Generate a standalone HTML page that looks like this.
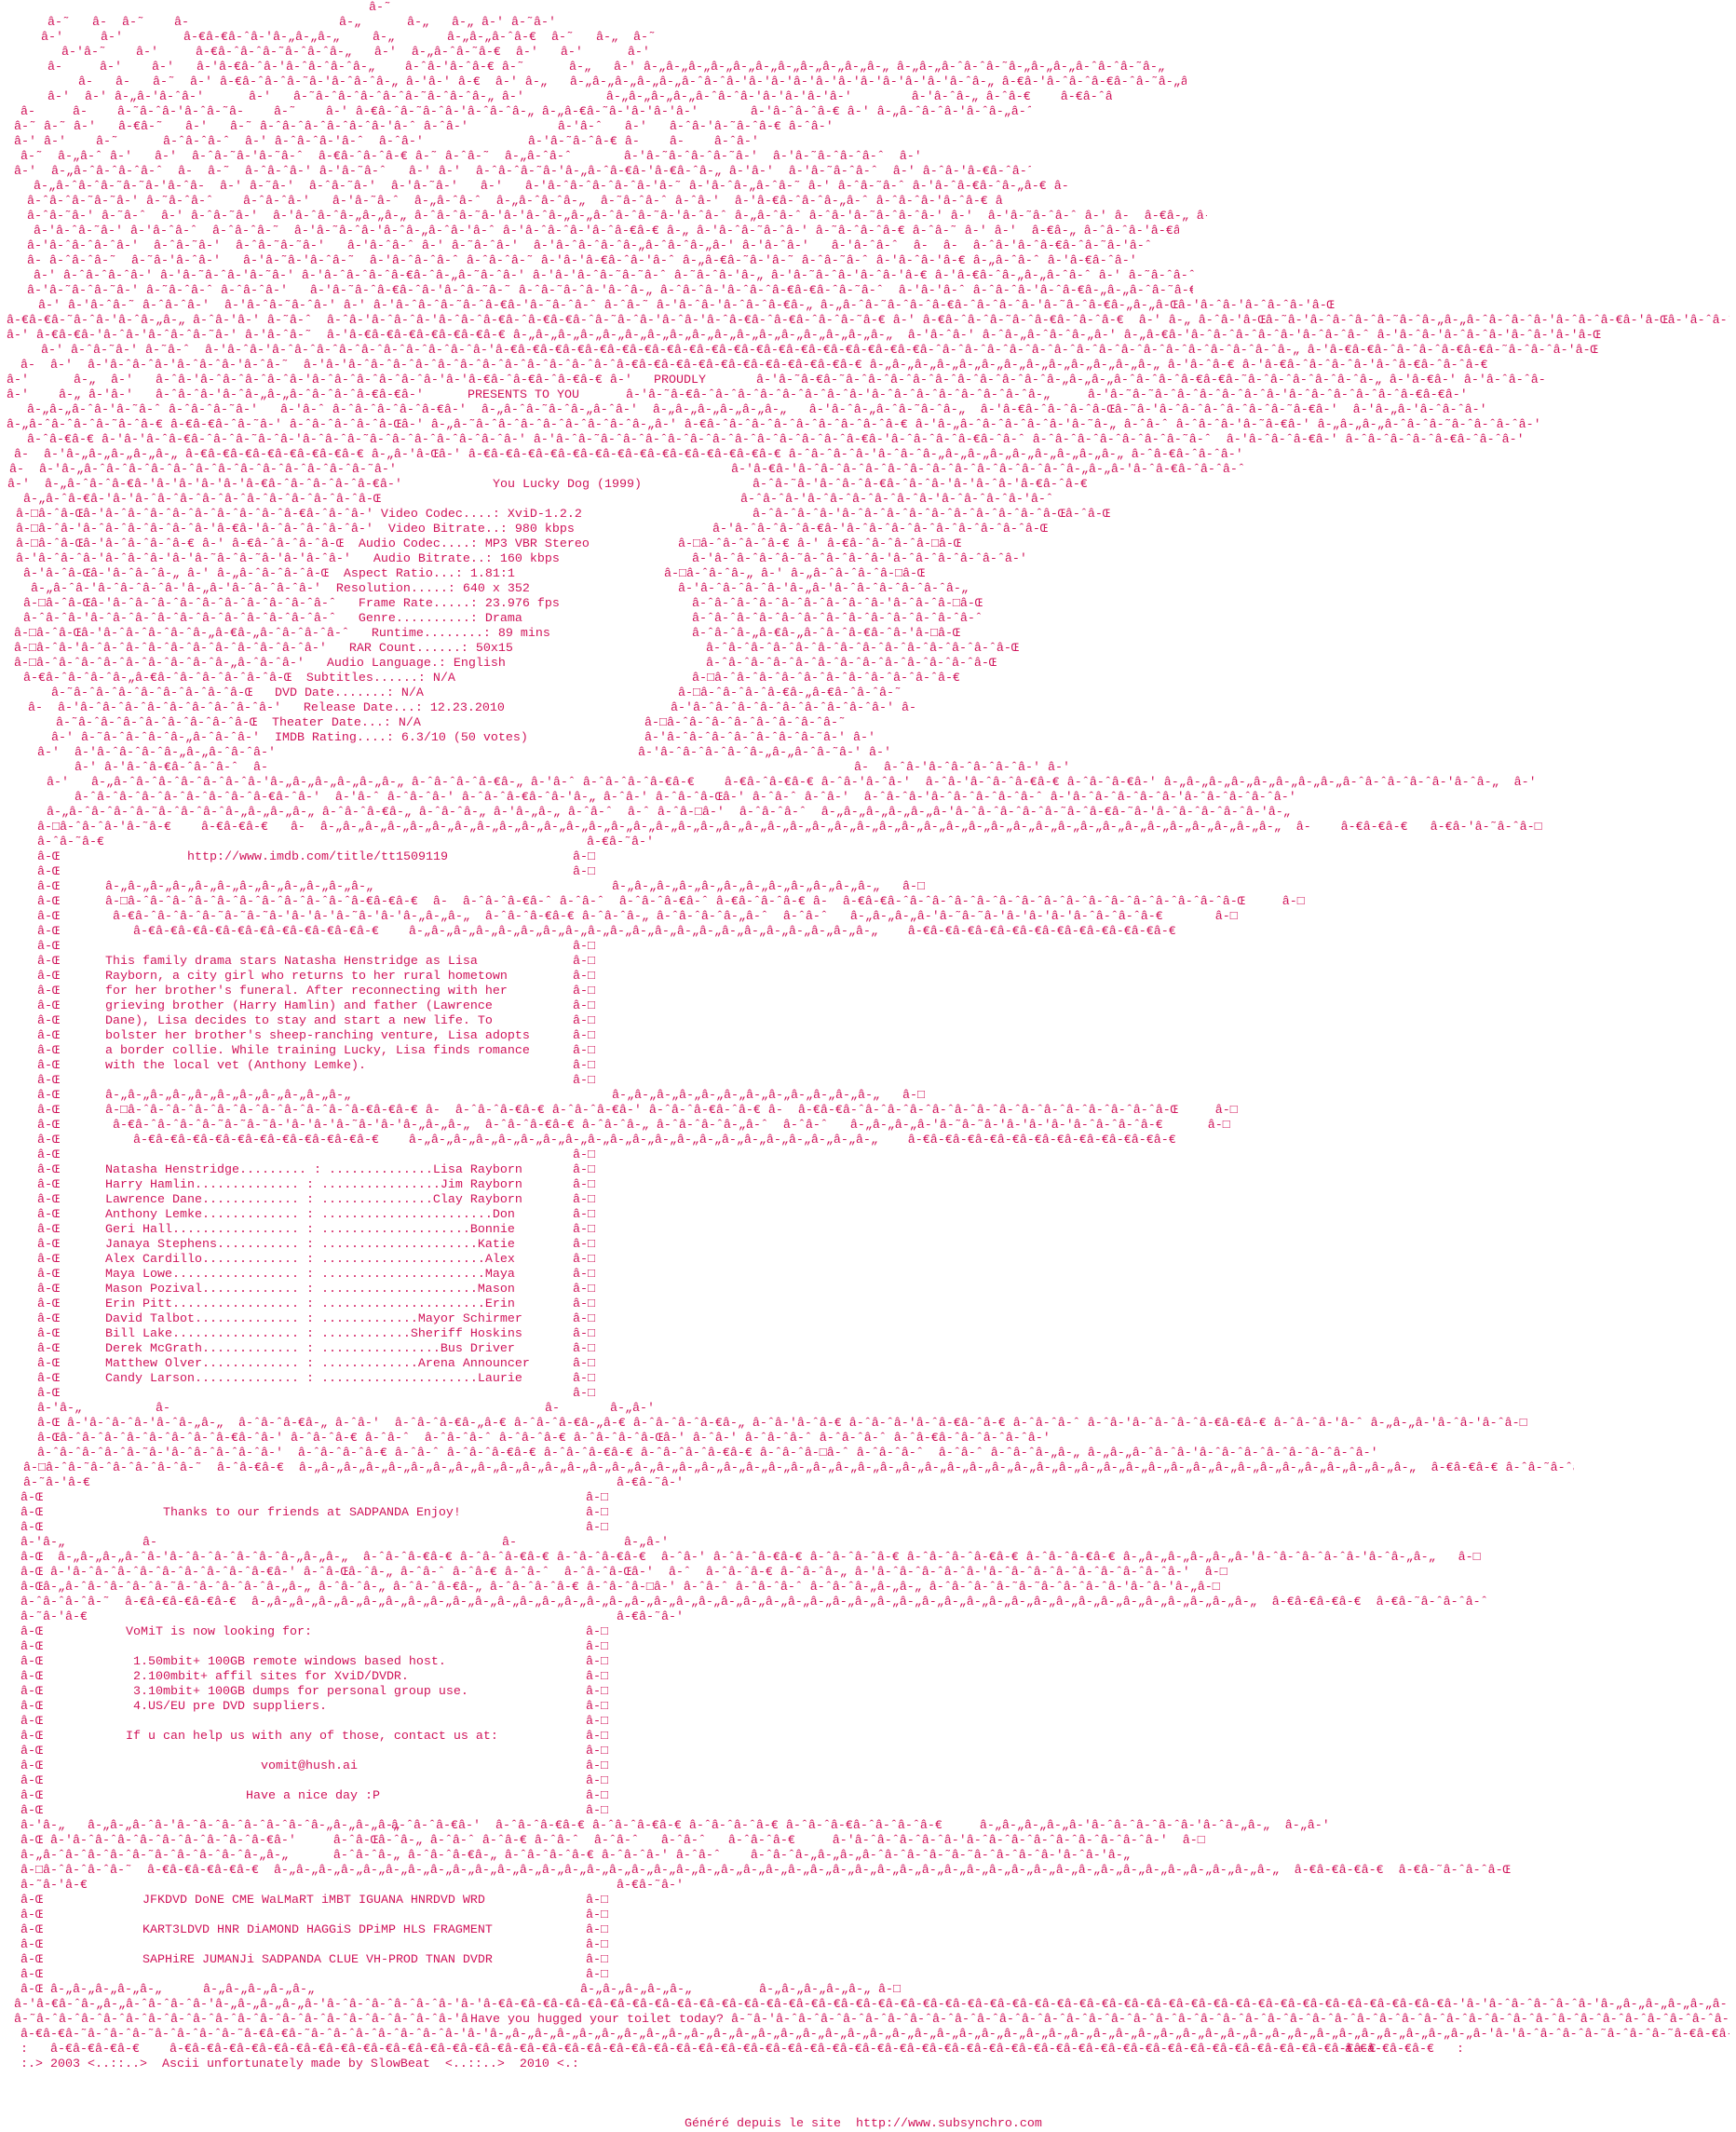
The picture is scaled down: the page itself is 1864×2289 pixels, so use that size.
<!DOCTYPE html>
<html><head><meta charset="utf-8">
<style>
html,body{margin:0;padding:0;background:#fff;}
body{width:1864px;height:2288px;position:relative;overflow:hidden;}
b{position:absolute;font-weight:normal;font-family:"Liberation Mono",monospace;font-size:13.33px;line-height:16px;white-space:pre;color:#d0145a;overflow:hidden;}
</style></head><body>
<b style="top:1px;left:396px">â-˜</b>
<b style="top:17px;left:51px">â-˜   â-  â-˜    â-</b><b style="top:17px;left:364px">â-„</b><b style="top:17px;left:437px">â-„   â-„ â-' â-˜â-'</b>
<b style="top:33px;left:44px">â-'     â-'</b><b style="top:33px;left:197px">â-€â-€â-ˆâ-'â-„â-„â-„</b><b style="top:33px;left:400px">â-„</b><b style="top:33px;left:480px">â-„â-„â-ˆâ-€  â-˜   â-„  â-˜</b>
<b style="top:49px;left:66px">â-'â-˜    â-'     â-€â-ˆâ-ˆâ-˜â-ˆâ-ˆâ-„   â-'  â-„â-ˆâ-˜â-€  â-'   â-'      â-'</b>
<b style="top:65px;left:51px">â-     â-'    â-'   â-'â-€â-ˆâ-'â-ˆâ-ˆâ-ˆâ-„    â-ˆâ-'â-ˆâ-€ â-˜</b><b style="top:65px;left:611px">â-„   â-' â-„â-„â-„â-„â-„â-„â-„â-„â-„â-„â-„ â-„â-„â-ˆâ-ˆâ-˜â-„â-„â-„â-ˆâ-ˆâ-˜â-„</b>
<b style="top:81px;left:84px;width:1190px">â-   â-   â-˜  â-' â-€â-ˆâ-ˆâ-˜â-'â-ˆâ-ˆâ-„ â-'â-' â-€  â-' â-„   â-„â-„â-„â-„â-„â-ˆâ-ˆâ-'â-'â-'â-'â-'â-'â-'â-'â-'â-'â-ˆâ-„ â-€â-'â-ˆâ-ˆâ-€â-ˆâ-˜â-„â-„â-ˆâ-'â-'â-ˆâ-€â-'</b>
<b style="top:97px;left:51px;width:1143px">â-'  â-' â-„â-'â-ˆâ-'      â-'   â-˜â-ˆâ-ˆâ-ˆâ-ˆâ-˜â-ˆâ-ˆâ-„ â-'           â-„â-„â-„â-„â-ˆâ-ˆâ-'â-'â-'â-'â-'        â-'â-ˆâ-„ â-ˆâ-€    â-€â-ˆâ-„</b>
<b style="top:113px;left:22px;width:1085px">â-     â-    â-˜â-ˆâ-'â-ˆâ-˜â-    â-˜    â-' â-€â-ˆâ-˜â-ˆâ-'â-ˆâ-ˆâ-„ â-„â-€â-˜â-'â-'â-'â-'       â-'â-ˆâ-ˆâ-€ â-' â-„â-ˆâ-ˆâ-'â-ˆâ-„â-ˆâ-'</b>
<b style="top:129px;left:15px;width:932px">â-˜ â-˜ â-'   â-€â-˜   â-'   â-˜ â-ˆâ-ˆâ-ˆâ-ˆâ-ˆâ-'â-ˆ â-ˆâ-'            â-'â-ˆ   â-'   â-ˆâ-'â-˜â-ˆâ-€ â-ˆâ-'</b>
<b style="top:145px;left:15px;width:932px">â-' â-'    â-˜      â-ˆâ-ˆâ-ˆ  â-' â-ˆâ-ˆâ-'â-ˆ  â-ˆâ-'              â-'â-˜â-ˆâ-€ â-    â-    â-ˆâ-'</b>
<b style="top:161px;left:22px;width:968px">â-˜  â-„â-ˆ â-'   â-'  â-ˆâ-˜â-'â-˜â-ˆ  â-€â-ˆâ-ˆâ-€ â-˜ â-ˆâ-˜  â-„â-ˆâ-ˆ       â-'â-˜â-ˆâ-ˆâ-˜â-'  â-'â-˜â-ˆâ-ˆâ-ˆ  â-' â-  â-€â-„</b>
<b style="top:177px;left:15px;width:1092px">â-'  â-„â-ˆâ-ˆâ-ˆâ-ˆ  â-  â-˜  â-ˆâ-ˆâ-' â-'â-˜â-ˆ   â-' â-'  â-ˆâ-ˆâ-˜â-'â-„â-ˆâ-€â-'â-€â-ˆâ-„ â-'â-'  â-'â-˜â-ˆâ-ˆ  â-' â-ˆâ-'â-€â-ˆâ-˜â-ˆâ-„ â-'</b>
<b style="top:193px;left:36px;width:1114px">â-„â-ˆâ-ˆâ-˜â-˜â-'â-ˆâ-  â-' â-˜â-'  â-ˆâ-˜â-'  â-'â-˜â-'   â-'   â-'â-ˆâ-ˆâ-ˆâ-ˆâ-'â-˜ â-'â-ˆâ-„â-ˆâ-˜ â-' â-ˆâ-˜â-ˆ â-'â-ˆâ-€â-ˆâ-„â-€ â-'â-'â-ˆâ-€â-ˆâ-˜ â-˜â-'</b>
<b style="top:209px;left:29px;width:1048px">â-ˆâ-ˆâ-˜â-˜â-' â-˜â-ˆâ-ˆ    â-ˆâ-ˆâ-'   â-'â-˜â-ˆ  â-„â-ˆâ-ˆ  â-„â-ˆâ-ˆâ-„  â-˜â-ˆâ-ˆ â-ˆâ-'  â-'â-€â-ˆâ-ˆâ-„â-ˆ â-ˆâ-ˆâ-'â-ˆâ-€ â-' â-˜â-ˆâ-„</b>
<b style="top:225px;left:29px;width:1267px">â-ˆâ-˜â-' â-˜â-ˆ  â-' â-ˆâ-˜â-'  â-'â-ˆâ-ˆâ-„â-„â-„ â-ˆâ-ˆâ-˜â-'â-'â-ˆâ-„â-„â-ˆâ-ˆâ-˜â-'â-ˆâ-ˆ â-„â-ˆâ-ˆ â-ˆâ-'â-˜â-ˆâ-ˆâ-' â-'  â-'â-˜â-ˆâ-ˆ â-' â-  â-€â-„ â-ˆâ-€â-'â-ˆ</b>
<b style="top:241px;left:36px;width:1230px">â-'â-ˆâ-˜â-' â-'â-ˆâ-ˆ  â-ˆâ-ˆâ-˜  â-'â-˜â-ˆâ-'â-ˆâ-„â-ˆâ-'â-ˆ â-'â-ˆâ-ˆâ-'â-ˆâ-€â-€ â-„ â-'â-ˆâ-˜â-ˆâ-' â-˜â-ˆâ-ˆâ-€ â-ˆâ-˜ â-' â-'  â-€â-„ â-ˆâ-ˆâ-'â-€â-ˆâ-˜â-ˆ â-'</b>
<b style="top:257px;left:29px;width:1252px">â-'â-ˆâ-ˆâ-ˆâ-'  â-ˆâ-˜â-'  â-ˆâ-˜â-˜â-'   â-'â-ˆâ-ˆ â-' â-˜â-ˆâ-'  â-'â-ˆâ-ˆâ-ˆâ-„â-ˆâ-ˆâ-„â-' â-'â-ˆâ-'   â-'â-ˆâ-ˆ  â-  â-  â-ˆâ-'â-ˆâ-€â-ˆâ-˜â-'â-ˆ</b>
<b style="top:273px;left:29px;width:1281px">â- â-ˆâ-ˆâ-˜  â-˜â-'â-ˆâ-'   â-'â-˜â-'â-ˆâ-˜  â-'â-ˆâ-ˆâ-ˆ â-ˆâ-ˆâ-˜ â-'â-'â-€â-ˆâ-'â-ˆ â-„â-€â-˜â-'â-˜ â-ˆâ-˜â-ˆ â-'â-ˆâ-'â-€ â-„â-ˆâ-ˆ â-'â-€â-ˆâ-'</b>
<b style="top:289px;left:36px;width:1259px">â-' â-ˆâ-ˆâ-ˆâ-' â-'â-˜â-ˆâ-'â-˜â-' â-'â-ˆâ-ˆâ-ˆâ-€â-ˆâ-„â-˜â-ˆâ-' â-'â-'â-ˆâ-˜â-˜â-ˆ â-˜â-ˆâ-'â-„ â-'â-˜â-ˆâ-'â-ˆâ-'â-€ â-'â-€â-ˆâ-„â-„â-ˆâ-ˆ â-' â-˜â-ˆâ-ˆ</b>
<b style="top:305px;left:29px;width:1252px">â-'â-˜â-ˆâ-˜â-' â-˜â-ˆâ-ˆ â-ˆâ-ˆâ-'   â-'â-˜â-ˆâ-€â-ˆâ-'â-ˆâ-˜â-˜ â-ˆâ-˜â-ˆâ-'â-ˆâ-„ â-ˆâ-ˆâ-'â-ˆâ-ˆâ-€â-€â-ˆâ-˜â-ˆ  â-'â-'â-ˆ â-ˆâ-ˆâ-'â-ˆâ-€â-„â-„â-ˆâ-˜â-€ â-'</b>
<b style="top:321px;left:41px;width:1546px">â-' â-'â-ˆâ-˜ â-ˆâ-ˆâ-'  â-'â-ˆâ-˜â-ˆâ-' â-' â-'â-ˆâ-ˆâ-˜â-ˆâ-€â-'â-˜â-ˆâ-ˆ â-ˆâ-˜ â-'â-ˆâ-'â-ˆâ-ˆâ-€â-„ â-„â-ˆâ-˜â-ˆâ-ˆâ-€â-ˆâ-ˆâ-ˆâ-'â-˜â-ˆâ-€â-„â-„â-Œâ-'â-ˆâ-'â-ˆâ-ˆâ-'â-Œ</b>
<b style="top:337px;left:7px;width:1850px">â-€â-€â-˜â-ˆâ-'â-ˆâ-„â-„ â-ˆâ-'â-' â-˜â-ˆ  â-ˆâ-'â-ˆâ-ˆâ-'â-ˆâ-ˆâ-€â-ˆâ-€â-€â-ˆâ-˜â-ˆâ-'â-ˆâ-'â-ˆâ-€â-ˆâ-€â-ˆâ-ˆâ-˜â-€ â-' â-€â-ˆâ-ˆâ-˜â-ˆâ-€â-ˆâ-ˆâ-€  â-' â-„ â-ˆâ-'â-Œâ-˜â-'â-ˆâ-ˆâ-ˆâ-˜â-ˆâ-„â-„â-ˆâ-ˆâ-ˆâ-'â-ˆâ-ˆâ-€â-'â-Œâ-'â-ˆâ-ˆâ-'â-ˆâ-€â-ˆâ-ˆâ-„â-„â-„â-ˆâ-ˆâ-'â-Œ</b>
<b style="top:353px;left:7px;width:1850px">â-' â-€â-€â-'â-ˆâ-'â-ˆâ-ˆâ-˜â-' â-'â-ˆâ-˜  â-'â-€â-€â-€â-€â-€â-€â-€ â-„â-„â-„â-„â-„â-„â-„â-„â-„â-„â-„â-„â-„â-„â-„â-„â-„  â-'â-ˆâ-' â-ˆâ-„â-ˆâ-ˆâ-„â-' â-„â-€â-'â-ˆâ-ˆâ-ˆâ-ˆâ-'â-ˆâ-ˆâ-ˆ â-'â-ˆâ-'â-ˆâ-ˆâ-'â-ˆâ-'â-'â-Œ</b>
<b style="top:369px;left:44px;width:1791px">â-' â-ˆâ-˜â-' â-˜â-ˆ  â-'â-ˆâ-'â-ˆâ-ˆâ-ˆâ-ˆâ-ˆâ-ˆâ-ˆâ-ˆâ-ˆâ-'â-€â-€â-€â-€â-€â-€â-€â-€â-€â-€â-€â-€â-€â-€â-€â-€â-€â-€â-€â-ˆâ-ˆâ-ˆâ-ˆâ-ˆâ-ˆâ-ˆâ-ˆâ-ˆâ-ˆâ-ˆâ-ˆâ-ˆâ-ˆâ-ˆâ-ˆâ-„ â-'â-€â-€â-ˆâ-ˆâ-ˆâ-€â-€â-˜â-ˆâ-ˆâ-'â-Œ</b>
<b style="top:385px;left:22px;width:1798px">â-  â-'  â-'â-ˆâ-ˆâ-'â-ˆâ-ˆâ-'â-ˆâ-˜  â-'â-'â-ˆâ-ˆâ-ˆâ-ˆâ-ˆâ-ˆâ-ˆâ-ˆâ-ˆâ-ˆâ-ˆâ-ˆâ-€â-€â-€â-€â-€â-€â-€â-€â-€â-€â-€ â-„â-„â-„â-„â-„â-„â-„â-„â-„â-„â-„â-„â-„ â-'â-ˆâ-€ â-'â-€â-ˆâ-ˆâ-ˆâ-'â-ˆâ-€â-ˆâ-ˆâ-€</b>
<b style="top:401px;left:7px;width:680px">â-'      â-„  â-'   â-ˆâ-'â-ˆâ-ˆâ-ˆâ-ˆâ-'â-ˆâ-ˆâ-ˆâ-ˆâ-ˆâ-'â-'â-€â-ˆâ-€â-ˆâ-€â-€ â-'</b><b style="top:401px;left:702px">PROUDLY</b><b style="top:401px;left:780px;width:880px">    â-'â-˜â-€â-˜â-ˆâ-ˆâ-ˆâ-ˆâ-ˆâ-ˆâ-ˆâ-ˆâ-ˆâ-„â-„â-„â-ˆâ-ˆâ-ˆâ-€â-€â-˜â-ˆâ-ˆâ-ˆâ-ˆâ-ˆâ-„ â-'â-€â-' â-'â-ˆâ-ˆâ-'â-ˆâ-ˆâ-ˆâ-˜</b>
<b style="top:417px;left:7px;width:480px">â-'    â-„ â-'â-'   â-ˆâ-ˆâ-'â-ˆâ-„â-„â-ˆâ-ˆâ-ˆâ-€â-€â-'</b><b style="top:417px;left:502px">PRESENTS TO YOU</b><b style="top:417px;left:640px;width:1107px">    â-'â-˜â-€â-ˆâ-ˆâ-ˆâ-ˆâ-ˆâ-ˆâ-ˆâ-'â-ˆâ-ˆâ-ˆâ-ˆâ-ˆâ-ˆâ-ˆâ-„     â-'â-˜â-˜â-ˆâ-ˆâ-ˆâ-ˆâ-ˆâ-'â-ˆâ-ˆâ-ˆâ-ˆâ-ˆâ-€â-€â-'</b>
<b style="top:433px;left:29px;width:1806px">â-„â-„â-ˆâ-'â-˜â-ˆ â-ˆâ-ˆâ-˜â-'   â-'â-ˆ â-ˆâ-ˆâ-ˆâ-ˆâ-€â-'  â-„â-ˆâ-˜â-ˆâ-„â-ˆâ-'  â-„â-„â-„â-„â-„â-„   â-'â-ˆâ-„â-ˆâ-˜â-ˆâ-„  â-'â-€â-ˆâ-ˆâ-ˆâ-Œâ-˜â-'â-ˆâ-ˆâ-ˆâ-ˆâ-ˆâ-˜â-€â-'  â-'â-„â-'â-ˆâ-ˆâ-'</b>
<b style="top:449px;left:7px;width:1850px">â-„â-ˆâ-ˆâ-ˆâ-˜â-ˆâ-€ â-€â-€â-ˆâ-˜â-' â-ˆâ-ˆâ-ˆâ-ˆâ-Œâ-' â-„â-˜â-ˆâ-ˆâ-ˆâ-ˆâ-ˆâ-ˆâ-ˆâ-„â-' â-€â-ˆâ-ˆâ-ˆâ-ˆâ-ˆâ-ˆâ-ˆâ-ˆâ-€ â-'â-„â-ˆâ-ˆâ-ˆâ-ˆâ-'â-˜â-„ â-ˆâ-ˆ â-ˆâ-ˆâ-'â-˜â-€â-' â-„â-„â-„â-ˆâ-ˆâ-˜â-ˆâ-ˆâ-ˆâ-'</b>
<b style="top:465px;left:29px;width:1828px">â-ˆâ-€â-€ â-'â-'â-ˆâ-€â-ˆâ-ˆâ-˜â-ˆâ-'â-ˆâ-ˆâ-˜â-ˆâ-ˆâ-ˆâ-ˆâ-ˆâ-ˆâ-' â-'â-ˆâ-˜â-ˆâ-ˆâ-ˆâ-ˆâ-ˆâ-ˆâ-ˆâ-ˆâ-ˆâ-ˆâ-ˆâ-€â-'â-ˆâ-ˆâ-ˆâ-€â-ˆâ-ˆ â-ˆâ-ˆâ-ˆâ-ˆâ-ˆâ-ˆâ-˜â-ˆ  â-'â-ˆâ-ˆâ-€â-' â-ˆâ-ˆâ-ˆâ-ˆâ-€â-ˆâ-ˆâ-'</b>
<b style="top:481px;left:15px;width:1383px">â-  â-'â-„â-„â-„â-„â-„ â-€â-€â-€â-€â-€â-€â-€â-€ â-„â-'â-Œâ-' â-€â-€â-€â-€â-€â-€â-€â-€â-€â-€â-€â-€â-€â-€ â-ˆâ-ˆâ-ˆâ-'â-ˆâ-ˆâ-„â-„â-„â-„â-„â-„â-„â-„â-„ â-ˆâ-€â-ˆâ-ˆâ-'</b>
<b style="top:497px;left:10px;width:570px">â-  â-'â-„â-ˆâ-ˆâ-ˆâ-ˆâ-ˆâ-ˆâ-ˆâ-ˆâ-ˆâ-ˆâ-ˆâ-ˆâ-˜â-'</b><b style="top:497px;left:785px;width:675px">â-'â-€â-'â-ˆâ-ˆâ-ˆâ-ˆâ-ˆâ-ˆâ-ˆâ-ˆâ-ˆâ-ˆâ-ˆâ-ˆâ-„â-„â-'â-ˆâ-€â-ˆâ-ˆâ-ˆ</b>
<b style="top:513px;left:8px">â-'  â-„â-ˆâ-ˆâ-€â-'â-'â-'â-'â-'â-€â-ˆâ-ˆâ-ˆâ-ˆâ-€â-'</b><b style="top:513px;left:529px">You Lucky Dog (1999)</b><b style="top:513px;left:808px">â-ˆâ-˜â-'â-ˆâ-ˆâ-€â-ˆâ-ˆâ-'â-'â-ˆâ-'â-€â-ˆâ-€</b>
<b style="top:529px;left:25px">â-„â-ˆâ-€â-'â-'â-ˆâ-ˆâ-ˆâ-ˆâ-ˆâ-ˆâ-ˆâ-ˆâ-ˆâ-ˆâ-Œ</b><b style="top:529px;left:795px">â-ˆâ-ˆâ-'â-ˆâ-ˆâ-ˆâ-ˆâ-ˆâ-'â-ˆâ-ˆâ-ˆâ-'â-ˆ</b>
<b style="top:545px;left:17px">â-□â-ˆâ-Œâ-'â-ˆâ-ˆâ-ˆâ-ˆâ-ˆâ-ˆâ-ˆâ-ˆâ-€â-ˆâ-ˆâ-' Video Codec....: XviD-1.2.2</b><b style="top:545px;left:808px">â-ˆâ-ˆâ-ˆâ-'â-ˆâ-ˆâ-ˆâ-ˆâ-ˆâ-ˆâ-ˆâ-ˆâ-ˆâ-Œâ-ˆâ-Œ</b>
<b style="top:561px;left:17px">â-□â-ˆâ-'â-ˆâ-ˆâ-ˆâ-ˆâ-ˆâ-'â-€â-'â-ˆâ-ˆâ-ˆâ-ˆâ-'  Video Bitrate..: 980 kbps</b><b style="top:561px;left:765px">â-'â-ˆâ-ˆâ-ˆâ-€â-'â-ˆâ-ˆâ-ˆâ-ˆâ-ˆâ-ˆâ-ˆâ-ˆâ-Œ</b>
<b style="top:577px;left:17px">â-□â-ˆâ-Œâ-'â-ˆâ-ˆâ-ˆâ-€ â-' â-€â-ˆâ-ˆâ-ˆâ-Œ  Audio Codec....: MP3 VBR Stereo</b><b style="top:577px;left:728px">â-□â-ˆâ-ˆâ-ˆâ-€ â-' â-€â-ˆâ-ˆâ-ˆâ-□â-Œ</b>
<b style="top:593px;left:17px">â-'â-ˆâ-ˆâ-'â-ˆâ-ˆâ-'â-'â-˜â-ˆâ-˜â-'â-'â-ˆâ-'   Audio Bitrate..: 160 kbps</b><b style="top:593px;left:743px">â-'â-ˆâ-ˆâ-ˆâ-˜â-ˆâ-ˆâ-ˆâ-'â-ˆâ-ˆâ-ˆâ-ˆâ-ˆâ-'</b>
<b style="top:609px;left:25px">â-'â-ˆâ-Œâ-'â-ˆâ-ˆâ-„ â-' â-„â-ˆâ-ˆâ-ˆâ-Œ  Aspect Ratio...: 1.81:1</b><b style="top:609px;left:713px">â-□â-ˆâ-ˆâ-„ â-' â-„â-ˆâ-ˆâ-ˆâ-□â-Œ</b>
<b style="top:625px;left:33px">â-„â-ˆâ-'â-ˆâ-ˆâ-ˆâ-'â-„â-'â-ˆâ-ˆâ-ˆâ-'  Resolution.....: 640 x 352</b><b style="top:625px;left:728px">â-'â-ˆâ-ˆâ-ˆâ-'â-„â-'â-ˆâ-ˆâ-ˆâ-ˆâ-ˆâ-„</b>
<b style="top:641px;left:25px">â-□â-ˆâ-Œâ-'â-ˆâ-ˆâ-ˆâ-ˆâ-ˆâ-ˆâ-ˆâ-ˆâ-ˆâ-ˆ   Frame Rate.....: 23.976 fps</b><b style="top:641px;left:743px">â-ˆâ-ˆâ-ˆâ-ˆâ-ˆâ-ˆâ-ˆâ-ˆâ-'â-ˆâ-ˆâ-□â-Œ</b>
<b style="top:657px;left:25px">â-ˆâ-ˆâ-'â-ˆâ-ˆâ-ˆâ-ˆâ-ˆâ-ˆâ-ˆâ-ˆâ-ˆâ-ˆâ-ˆ   Genre..........: Drama</b><b style="top:657px;left:743px">â-ˆâ-ˆâ-ˆâ-ˆâ-ˆâ-ˆâ-ˆâ-ˆâ-ˆâ-ˆâ-ˆâ-ˆâ-ˆ</b>
<b style="top:673px;left:15px">â-□â-ˆâ-Œâ-'â-ˆâ-ˆâ-ˆâ-ˆâ-„â-€â-„â-ˆâ-ˆâ-ˆâ-ˆ   Runtime........: 89 mins</b><b style="top:673px;left:743px">â-ˆâ-ˆâ-„â-€â-„â-ˆâ-ˆâ-€â-ˆâ-'â-□â-Œ</b>
<b style="top:689px;left:15px">â-□â-ˆâ-'â-ˆâ-ˆâ-ˆâ-ˆâ-ˆâ-ˆâ-ˆâ-ˆâ-ˆâ-ˆâ-'   RAR Count......: 50x15</b><b style="top:689px;left:758px">â-ˆâ-ˆâ-ˆâ-ˆâ-ˆâ-ˆâ-ˆâ-ˆâ-ˆâ-ˆâ-ˆâ-ˆâ-ˆâ-Œ</b>
<b style="top:705px;left:15px">â-□â-ˆâ-ˆâ-ˆâ-ˆâ-ˆâ-ˆâ-ˆâ-ˆâ-„â-ˆâ-ˆâ-'   Audio Language.: English</b><b style="top:705px;left:758px">â-ˆâ-ˆâ-ˆâ-ˆâ-ˆâ-ˆâ-ˆâ-ˆâ-ˆâ-ˆâ-ˆâ-ˆâ-Œ</b>
<b style="top:721px;left:25px">â-€â-ˆâ-ˆâ-ˆâ-„â-€â-ˆâ-ˆâ-ˆâ-ˆâ-ˆâ-Œ  Subtitles......: N/A</b><b style="top:721px;left:743px">â-□â-ˆâ-ˆâ-ˆâ-ˆâ-ˆâ-ˆâ-ˆâ-ˆâ-ˆâ-ˆâ-€</b>
<b style="top:737px;left:55px">â-˜â-ˆâ-ˆâ-ˆâ-ˆâ-ˆâ-ˆâ-ˆâ-Œ   DVD Date.......: N/A</b><b style="top:737px;left:728px">â-□â-ˆâ-ˆâ-ˆâ-€â-„â-€â-ˆâ-ˆâ-˜</b>
<b style="top:753px;left:30px">â-  â-'â-ˆâ-ˆâ-ˆâ-ˆâ-ˆâ-ˆâ-ˆâ-ˆâ-'   Release Date...: 12.23.2010</b><b style="top:753px;left:720px">â-'â-ˆâ-ˆâ-ˆâ-ˆâ-ˆâ-ˆâ-ˆâ-ˆâ-' â-</b>
<b style="top:769px;left:60px">â-˜â-ˆâ-ˆâ-ˆâ-ˆâ-ˆâ-ˆâ-ˆâ-Œ  Theater Date...: N/A</b><b style="top:769px;left:692px">â-□â-ˆâ-ˆâ-ˆâ-ˆâ-ˆâ-ˆâ-ˆâ-˜</b>
<b style="top:785px;left:55px">â-' â-˜â-ˆâ-ˆâ-ˆâ-„â-ˆâ-ˆâ-'  IMDB Rating....: 6.3/10 (50 votes)</b><b style="top:785px;left:692px">â-'â-ˆâ-ˆâ-ˆâ-ˆâ-ˆâ-ˆâ-˜â-' â-'</b>
<b style="top:801px;left:40px">â-'  â-'â-ˆâ-ˆâ-ˆâ-„â-„â-ˆâ-ˆâ-'</b><b style="top:801px;left:685px">â-'â-ˆâ-ˆâ-ˆâ-ˆâ-„â-„â-ˆâ-˜â-' â-'</b>
<b style="top:817px;left:80px">â-' â-'â-ˆâ-€â-ˆâ-ˆâ-ˆ  â-</b><b style="top:817px;left:917px">â-  â-ˆâ-'â-ˆâ-ˆâ-ˆâ-ˆâ-' â-'</b>
<b style="top:833px;left:50px;width:1807px">â-'   â-„â-ˆâ-ˆâ-ˆâ-ˆâ-ˆâ-ˆâ-'â-„â-„â-„â-„â-„â-„ â-ˆâ-ˆâ-ˆâ-€â-„ â-'â-ˆ â-ˆâ-ˆâ-ˆâ-€â-€    â-€â-ˆâ-€â-€ â-ˆâ-'â-ˆâ-'  â-ˆâ-'â-ˆâ-ˆâ-€â-€ â-ˆâ-ˆâ-€â-' â-„â-„â-„â-„â-„â-„â-„â-„â-ˆâ-ˆâ-ˆâ-ˆâ-'â-ˆâ-„  â-'</b>
<b style="top:849px;left:80px;width:1750px">â-ˆâ-ˆâ-ˆâ-ˆâ-ˆâ-ˆâ-ˆâ-ˆâ-€â-ˆâ-'  â-'â-ˆ â-ˆâ-ˆâ-' â-ˆâ-ˆâ-€â-ˆâ-'â-„ â-ˆâ-' â-ˆâ-ˆâ-Œâ-' â-ˆâ-ˆ â-ˆâ-'  â-ˆâ-ˆâ-'â-ˆâ-ˆâ-ˆâ-ˆâ-ˆ â-'â-ˆâ-ˆâ-ˆâ-ˆâ-'â-ˆâ-ˆâ-ˆâ-ˆâ-'</b>
<b style="top:865px;left:50px;width:1807px">â-„â-ˆâ-ˆâ-ˆâ-˜â-ˆâ-ˆâ-ˆâ-„â-„â-„â-„ â-ˆâ-ˆâ-€â-„ â-ˆâ-ˆâ-„ â-'â-„â-„ â-ˆâ-ˆ  â-ˆ â-ˆâ-□â-'  â-ˆâ-ˆâ-ˆ  â-„â-„â-„â-„â-„â-'â-ˆâ-ˆâ-ˆâ-ˆâ-˜â-ˆâ-€â-˜â-'â-ˆâ-ˆâ-ˆâ-ˆâ-'â-„</b>
<b style="top:881px;left:40px;width:1817px">â-□â-ˆâ-ˆâ-'â-˜â-€    â-€â-€â-€   â-  â-„â-„â-„â-„â-„â-„â-„â-„â-„â-„â-„â-„â-„â-„â-„â-„â-„â-„â-„â-„â-„â-„â-„â-„â-„â-„â-„â-„â-„â-„â-„â-„â-„â-„â-„â-„â-„â-„â-„â-„â-„â-„â-„  â-    â-€â-€â-€   â-€â-'â-˜â-ˆâ-□</b>
<b style="top:897px;left:40px">â-ˆâ-˜â-€</b><b style="top:897px;left:630px">â-€â-˜â-'</b>
<b style="top:913px;left:40px">â-Œ
â-Œ
â-Œ
â-Œ
â-Œ
â-Œ
â-Œ
â-Œ
â-Œ
â-Œ
â-Œ
â-Œ
â-Œ
â-Œ
â-Œ
â-Œ
â-Œ
â-Œ
â-Œ
â-Œ
â-Œ
â-Œ
â-Œ
â-Œ
â-Œ
â-Œ
â-Œ
â-Œ
â-Œ
â-Œ
â-Œ
â-Œ
â-Œ
â-Œ
â-Œ
â-Œ
â-Œ</b>
<b style="top:913px;left:615px">â-□
â-□




â-□
â-□
â-□
â-□
â-□
â-□
â-□
â-□
â-□
â-□




â-□
â-□
â-□
â-□
â-□
â-□
â-□
â-□
â-□
â-□
â-□
â-□
â-□
â-□
â-□
â-□
â-□</b>
<b style="top:913px;left:201px">http://www.imdb.com/title/tt1509119</b>
<b style="top:945px;left:113px">â-„â-„â-„â-„â-„â-„â-„â-„â-„â-„â-„â-„</b><b style="top:945px;left:657px">â-„â-„â-„â-„â-„â-„â-„â-„â-„â-„â-„â-„</b><b style="top:945px;left:969px">â-□</b>
<b style="top:961px;left:113px;width:1290px">â-□â-ˆâ-ˆâ-ˆâ-ˆâ-ˆâ-ˆâ-ˆâ-ˆâ-ˆâ-ˆâ-€â-€â-€  â-  â-ˆâ-ˆâ-€â-ˆ â-ˆâ-ˆ  â-ˆâ-ˆâ-€â-ˆ â-€â-ˆâ-ˆâ-€ â-  â-€â-€â-ˆâ-ˆâ-ˆâ-ˆâ-ˆâ-ˆâ-ˆâ-ˆâ-ˆâ-ˆâ-ˆâ-ˆâ-ˆâ-ˆâ-ˆâ-Œ     â-□</b>
<b style="top:977px;left:121px;width:1240px">â-€â-ˆâ-ˆâ-ˆâ-˜â-˜â-˜â-'â-'â-'â-˜â-'â-'â-„â-„â-„  â-ˆâ-ˆâ-€â-€ â-ˆâ-ˆâ-„ â-ˆâ-ˆâ-ˆâ-„â-ˆ  â-ˆâ-ˆ   â-„â-„â-„â-'â-˜â-˜â-'â-'â-'â-'â-ˆâ-ˆâ-ˆâ-€       â-□</b>
<b style="top:993px;left:143px;width:1140px">â-€â-€â-€â-€â-€â-€â-€â-€â-€â-€â-€    â-„â-„â-„â-„â-„â-„â-„â-„â-„â-„â-„â-„â-„â-„â-„â-„â-„â-„â-„â-„â-„    â-€â-€â-€â-€â-€â-€â-€â-€â-€â-€â-€â-€      â-□</b>
<b style="top:1025px;left:113px">This family drama stars Natasha Henstridge as Lisa
Rayborn, a city girl who returns to her rural hometown
for her brother's funeral. After reconnecting with her
grieving brother (Harry Hamlin) and father (Lawrence
Dane), Lisa decides to stay and start a new life. To
bolster her brother's sheep-ranching venture, Lisa adopts
a border collie. While training Lucky, Lisa finds romance
with the local vet (Anthony Lemke).</b>
<b style="top:1169px;left:113px">â-„â-„â-„â-„â-„â-„â-„â-„â-„â-„â-„</b><b style="top:1169px;left:657px">â-„â-„â-„â-„â-„â-„â-„â-„â-„â-„â-„â-„</b><b style="top:1169px;left:969px">â-□</b>
<b style="top:1185px;left:113px;width:1330px">â-□â-ˆâ-ˆâ-ˆâ-ˆâ-ˆâ-ˆâ-ˆâ-ˆâ-ˆâ-ˆâ-€â-€â-€ â-  â-ˆâ-ˆâ-€â-€ â-ˆâ-ˆâ-€â-' â-ˆâ-ˆâ-€â-ˆâ-€ â-  â-€â-€â-ˆâ-ˆâ-ˆâ-ˆâ-ˆâ-ˆâ-ˆâ-ˆâ-ˆâ-ˆâ-ˆâ-ˆâ-ˆâ-ˆâ-Œ     â-□</b>
<b style="top:1201px;left:121px;width:1250px">â-€â-ˆâ-ˆâ-ˆâ-˜â-˜â-˜â-'â-'â-'â-˜â-'â-'â-„â-„â-„  â-ˆâ-ˆâ-€â-€ â-ˆâ-ˆâ-„ â-ˆâ-ˆâ-ˆâ-„â-ˆ  â-ˆâ-ˆ   â-„â-„â-„â-'â-˜â-˜â-'â-'â-'â-'â-ˆâ-ˆâ-ˆâ-€      â-□</b>
<b style="top:1217px;left:143px;width:1140px">â-€â-€â-€â-€â-€â-€â-€â-€â-€â-€â-€    â-„â-„â-„â-„â-„â-„â-„â-„â-„â-„â-„â-„â-„â-„â-„â-„â-„â-„â-„â-„â-„    â-€â-€â-€â-€â-€â-€â-€â-€â-€â-€â-€â-€      â-□</b>
<b style="top:1249px;left:113px">Natasha Henstridge......... : ..............Lisa Rayborn
Harry Hamlin.............. : ................Jim Rayborn
Lawrence Dane............. : ...............Clay Rayborn
Anthony Lemke............. : .......................Don
Geri Hall................. : ....................Bonnie
Janaya Stephens........... : .....................Katie
Alex Cardillo............. : ......................Alex
Maya Lowe................. : ......................Maya
Mason Pozival............. : .....................Mason
Erin Pitt................. : ......................Erin
David Talbot.............. : .............Mayor Schirmer
Bill Lake................. : ............Sheriff Hoskins
Derek McGrath............. : ................Bus Driver
Matthew Olver............. : .............Arena Announcer
Candy Larson.............. : .....................Laurie</b>
<b style="top:1505px;left:40px">â-'â-„</b><b style="top:1505px;left:167px">â-</b><b style="top:1505px;left:585px">â-</b><b style="top:1505px;left:655px">â-„â-'</b>
<b style="top:1521px;left:40px;width:1730px">â-Œ â-'â-ˆâ-ˆâ-'â-ˆâ-„â-„  â-ˆâ-ˆâ-€â-„ â-ˆâ-'  â-ˆâ-ˆâ-€â-„â-€ â-ˆâ-ˆâ-€â-„â-€ â-ˆâ-ˆâ-ˆâ-€â-„ â-ˆâ-'â-ˆâ-€ â-ˆâ-ˆâ-'â-ˆâ-€â-ˆâ-€ â-ˆâ-ˆâ-ˆ â-ˆâ-'â-ˆâ-ˆâ-ˆâ-€â-€â-€ â-ˆâ-ˆâ-'â-ˆ â-„â-„â-'â-ˆâ-'â-ˆâ-□</b>
<b style="top:1537px;left:40px;width:1547px">â-Œâ-ˆâ-ˆâ-ˆâ-ˆâ-ˆâ-ˆâ-ˆâ-€â-ˆâ-' â-ˆâ-ˆâ-€ â-ˆâ-ˆ  â-ˆâ-ˆâ-ˆ â-ˆâ-ˆâ-€ â-ˆâ-ˆâ-ˆâ-Œâ-' â-ˆâ-' â-ˆâ-ˆâ-ˆ â-ˆâ-ˆâ-ˆ â-ˆâ-€â-ˆâ-ˆâ-ˆâ-ˆâ-'</b>
<b style="top:1553px;left:40px;width:1817px">â-ˆâ-ˆâ-ˆâ-ˆâ-˜â-'â-ˆâ-ˆâ-ˆâ-ˆâ-'  â-ˆâ-ˆâ-ˆâ-€ â-ˆâ-ˆ â-ˆâ-ˆâ-€â-€ â-ˆâ-ˆâ-€â-€ â-ˆâ-ˆâ-ˆâ-€â-€ â-ˆâ-ˆâ-□â-ˆ â-ˆâ-ˆâ-ˆ  â-ˆâ-ˆ â-ˆâ-ˆâ-„â-„ â-„â-„â-ˆâ-ˆâ-'â-ˆâ-ˆâ-ˆâ-ˆâ-ˆâ-ˆâ-ˆâ-'</b>
<b style="top:1569px;left:25px;width:1665px">â-□â-ˆâ-˜â-ˆâ-ˆâ-ˆâ-ˆâ-˜  â-ˆâ-€â-€  â-„â-„â-„â-„â-„â-„â-„â-„â-„â-„â-„â-„â-„â-„â-„â-„â-„â-„â-„â-„â-„â-„â-„â-„â-„â-„â-„â-„â-„â-„â-„â-„â-„â-„â-„â-„â-„â-„â-„â-„â-„â-„â-„â-„â-„â-„â-„â-„â-„â-„  â-€â-€â-€ â-ˆâ-˜â-ˆâ-ˆâ-Œ</b>
<b style="top:1585px;left:25px">â-˜â-'â-€</b><b style="top:1585px;left:662px">â-€â-˜â-'</b>
<b style="top:1601px;left:22px">â-Œ
â-Œ
â-Œ</b><b style="top:1601px;left:629px">â-□
â-□
â-□</b>
<b style="top:1617px;left:175px">Thanks to our friends at SADPANDA Enjoy!</b>
<b style="top:1649px;left:22px">â-'â-„</b><b style="top:1649px;left:153px">â-</b><b style="top:1649px;left:539px">â-</b><b style="top:1649px;left:670px">â-„â-'</b>
<b style="top:1665px;left:22px;width:1783px">â-Œ  â-„â-„â-„â-ˆâ-'â-ˆâ-ˆâ-ˆâ-ˆâ-ˆâ-„â-„â-„  â-ˆâ-ˆâ-€â-€ â-ˆâ-ˆâ-€â-€ â-ˆâ-ˆâ-€â-€  â-ˆâ-' â-ˆâ-ˆâ-€â-€ â-ˆâ-ˆâ-ˆâ-€ â-ˆâ-ˆâ-ˆâ-€â-€ â-ˆâ-ˆâ-€â-€ â-„â-„â-„â-„â-„â-'â-ˆâ-ˆâ-ˆâ-ˆâ-'â-ˆâ-„â-„   â-□</b>
<b style="top:1681px;left:22px;width:1778px">â-Œ â-'â-ˆâ-ˆâ-ˆâ-ˆâ-ˆâ-ˆâ-ˆâ-ˆâ-€â-' â-ˆâ-Œâ-ˆâ-„ â-ˆâ-ˆ â-ˆâ-€ â-ˆâ-ˆ  â-ˆâ-ˆâ-Œâ-'  â-ˆ  â-ˆâ-ˆâ-€ â-ˆâ-ˆâ-„ â-'â-ˆâ-ˆâ-ˆâ-ˆâ-'â-ˆâ-ˆâ-ˆâ-ˆâ-ˆâ-ˆâ-ˆâ-ˆâ-'  â-□</b>
<b style="top:1697px;left:22px;width:1763px">â-Œâ-„â-ˆâ-ˆâ-ˆâ-ˆâ-˜â-ˆâ-ˆâ-ˆâ-ˆâ-„â-„ â-ˆâ-ˆâ-„ â-ˆâ-ˆâ-€â-„ â-ˆâ-ˆâ-ˆâ-€ â-ˆâ-ˆâ-□â-' â-ˆâ-ˆ â-ˆâ-ˆâ-ˆ â-ˆâ-ˆâ-„â-„â-„ â-ˆâ-ˆâ-ˆâ-˜â-˜â-ˆâ-ˆâ-ˆâ-'â-ˆâ-'â-„â-□</b>
<b style="top:1713px;left:22px;width:1690px">â-ˆâ-ˆâ-ˆâ-˜  â-€â-€â-€â-€â-€  â-„â-„â-„â-„â-„â-„â-„â-„â-„â-„â-„â-„â-„â-„â-„â-„â-„â-„â-„â-„â-„â-„â-„â-„â-„â-„â-„â-„â-„â-„â-„â-„â-„â-„â-„â-„â-„â-„â-„â-„â-„â-„â-„â-„â-„  â-€â-€â-€â-€  â-€â-˜â-ˆâ-ˆâ-ˆ</b>
<b style="top:1729px;left:22px">â-˜â-'â-€</b><b style="top:1729px;left:662px">â-€â-˜â-'</b>
<b style="top:1745px;left:22px">â-Œ
â-Œ
â-Œ
â-Œ
â-Œ
â-Œ
â-Œ
â-Œ
â-Œ
â-Œ
â-Œ
â-Œ
â-Œ</b><b style="top:1745px;left:629px">â-□
â-□
â-□
â-□
â-□
â-□
â-□
â-□
â-□
â-□
â-□
â-□
â-□</b>
<b style="top:1745px;left:135px">VoMiT is now looking for:</b>
<b style="top:1777px;left:143px">1.50mbit+ 100GB remote windows based host.
2.100mbit+ affil sites for XviD/DVDR.
3.10mbit+ 100GB dumps for personal group use.
4.US/EU pre DVD suppliers.</b>
<b style="top:1857px;left:135px">If u can help us with any of those, contact us at:</b>
<b style="top:1889px;left:280px">vomit@hush.ai</b>
<b style="top:1921px;left:264px">Have a nice day :P</b>
<b style="top:1953px;left:22px">â-'â-„   â-„â-„â-ˆâ-'â-ˆâ-ˆâ-ˆâ-ˆâ-ˆâ-ˆâ-„â-„â-„â-„</b><b style="top:1953px;left:420px;width:1145px">â-ˆâ-ˆâ-€â-'  â-ˆâ-ˆâ-€â-€ â-ˆâ-ˆâ-€â-€ â-ˆâ-ˆâ-ˆâ-€ â-ˆâ-ˆâ-€â-ˆâ-ˆâ-ˆâ-€     â-„â-„â-„â-„â-'â-ˆâ-ˆâ-ˆâ-ˆâ-'â-ˆâ-„â-„  â-„â-'</b>
<b style="top:1969px;left:22px;width:1778px">â-Œ â-'â-ˆâ-ˆâ-ˆâ-ˆâ-ˆâ-ˆâ-ˆâ-ˆâ-€â-'     â-ˆâ-Œâ-ˆâ-„ â-ˆâ-ˆ â-ˆâ-€ â-ˆâ-ˆ  â-ˆâ-ˆ   â-ˆâ-ˆ   â-ˆâ-ˆâ-€     â-'â-ˆâ-ˆâ-ˆâ-ˆâ-'â-ˆâ-ˆâ-ˆâ-ˆâ-ˆâ-ˆâ-ˆâ-ˆâ-'  â-□</b>
<b style="top:1985px;left:22px;width:1738px">â-„â-ˆâ-ˆâ-ˆâ-ˆâ-˜â-ˆâ-ˆâ-ˆâ-ˆâ-„â-„      â-ˆâ-ˆâ-„ â-ˆâ-ˆâ-€â-„ â-ˆâ-ˆâ-ˆâ-€ â-ˆâ-ˆâ-' â-ˆâ-ˆ    â-ˆâ-ˆâ-„â-„â-„â-ˆâ-ˆâ-ˆâ-˜â-˜â-ˆâ-ˆâ-ˆâ-'â-ˆâ-'â-„</b>
<b style="top:2001px;left:22px;width:1690px">â-□â-ˆâ-ˆâ-ˆâ-˜  â-€â-€â-€â-€â-€  â-„â-„â-„â-„â-„â-„â-„â-„â-„â-„â-„â-„â-„â-„â-„â-„â-„â-„â-„â-„â-„â-„â-„â-„â-„â-„â-„â-„â-„â-„â-„â-„â-„â-„â-„â-„â-„â-„â-„â-„â-„â-„â-„â-„â-„  â-€â-€â-€â-€  â-€â-˜â-ˆâ-ˆâ-Œ</b>
<b style="top:2017px;left:22px">â-˜â-'â-€</b><b style="top:2017px;left:662px">â-€â-˜â-'</b>
<b style="top:2033px;left:22px">â-Œ
â-Œ
â-Œ
â-Œ
â-Œ
â-Œ</b><b style="top:2033px;left:629px">â-□
â-□
â-□
â-□
â-□
â-□</b>
<b style="top:2033px;left:153px">JFKDVD DoNE CME WaLMaRT iMBT IGUANA HNRDVD WRD</b>
<b style="top:2065px;left:153px">KART3LDVD HNR DiAMOND HAGGiS DPiMP HLS FRAGMENT</b>
<b style="top:2097px;left:153px">SAPHiRE JUMANJi SADPANDA CLUE VH-PROD TNAN DVDR</b>
<b style="top:2129px;left:22px">â-Œ â-„â-„â-„â-„â-„</b><b style="top:2129px;left:218px">â-„â-„â-„â-„â-„</b><b style="top:2129px;left:623px">â-„â-„â-„â-„â-„</b><b style="top:2129px;left:815px">â-„â-„â-„â-„â-„ â-□</b>
<b style="top:2145px;left:15px;width:1842px">â-'â-€â-ˆâ-„â-„â-ˆâ-ˆâ-ˆâ-'â-„â-„â-„â-„â-'â-ˆâ-ˆâ-ˆâ-ˆâ-ˆâ-'â-'â-€â-€â-€â-€â-€â-€â-€â-€â-€â-€â-€â-€â-€â-€â-€â-€â-€â-€â-€â-€â-€â-€â-€â-€â-€â-€â-€â-€â-€â-€â-€â-€â-€â-€â-€â-€â-€â-€â-€â-€â-€â-€â-€â-'â-'â-ˆâ-ˆâ-ˆâ-ˆâ-'â-„â-„â-„â-„â-„â-'â-ˆâ-ˆâ-ˆâ-„â-„â-„â-'â-ˆâ-€â-€</b>
<b style="top:2161px;left:15px;width:490px">â-˜â-ˆâ-ˆâ-ˆâ-ˆâ-ˆâ-ˆâ-ˆâ-ˆâ-ˆâ-ˆâ-ˆâ-ˆâ-ˆâ-ˆâ-ˆâ-ˆâ-ˆâ-ˆâ-'â-˜</b><b style="top:2161px;left:505px">Have you hugged your toilet today?</b><b style="top:2161px;left:785px;width:1072px">â-˜â-'â-ˆâ-ˆâ-ˆâ-ˆâ-ˆâ-ˆâ-ˆâ-ˆâ-ˆâ-ˆâ-ˆâ-ˆâ-ˆâ-ˆâ-ˆâ-ˆâ-ˆâ-ˆâ-ˆâ-ˆâ-ˆâ-ˆâ-ˆâ-ˆâ-ˆâ-ˆâ-ˆâ-ˆâ-ˆâ-ˆâ-ˆâ-ˆâ-ˆâ-ˆâ-ˆâ-ˆâ-ˆâ-ˆâ-ˆâ-ˆâ-ˆâ-ˆâ-ˆâ-ˆ</b>
<b style="top:2177px;left:22px;width:1835px">â-€â-€â-˜â-ˆâ-ˆâ-˜â-ˆâ-ˆâ-ˆâ-˜â-€â-€â-˜â-ˆâ-ˆâ-ˆâ-ˆâ-ˆâ-ˆâ-'â-'â-„â-„â-„â-„â-„â-„â-„â-„â-„â-„â-„â-„â-„â-„â-„â-„â-„â-„â-„â-„â-„â-„â-„â-„â-„â-„â-„â-„â-„â-„â-„â-„â-„â-„â-„â-„â-„â-„â-„â-„â-„â-„â-„â-„â-'â-'â-ˆâ-ˆâ-ˆâ-˜â-ˆâ-ˆâ-˜â-€â-€â-˜â-ˆâ-ˆâ-ˆâ-˜â-ˆâ-˜â-€</b>
<b style="top:2193px;left:22px;width:1540px">:   â-€â-€â-€â-€    â-€â-€â-€â-€â-€â-€â-€â-€â-€â-€â-€â-€â-€â-€â-€â-€â-€â-€â-€â-€â-€â-€â-€â-€â-€â-€â-€â-€â-€â-€â-€â-€â-€â-€â-€â-€â-€â-€â-€â-€â-€â-€â-€â-€â-€â-€â-€â-€â-€â-€â-€â-€â-€â-€</b><b style="top:2193px;left:1420px">   â-€â-€â-€â-€   :</b>
<b style="top:2209px;left:22px">:.&gt; 2003 &lt;..::..&gt;  Ascii unfortunately made by SlowBeat  &lt;..::..&gt;  2010 &lt;.:</b>
<b style="top:2273px;left:735px">Généré depuis le site  http://www.subsynchro.com</b>
</body></html>
